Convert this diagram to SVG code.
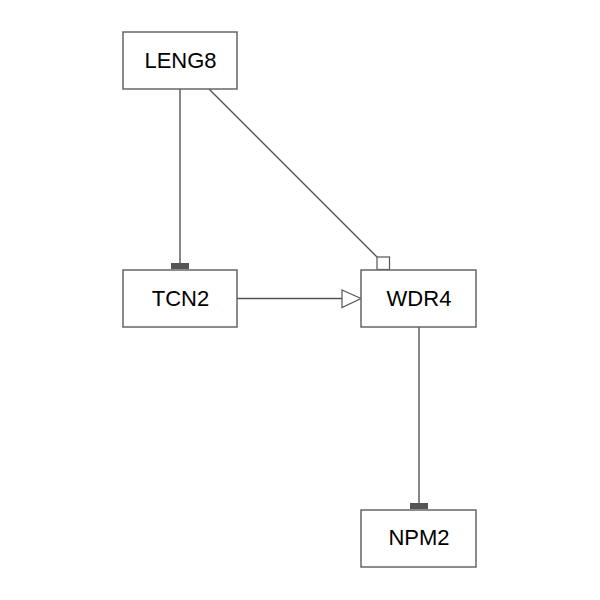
<svg xmlns="http://www.w3.org/2000/svg" width="600" height="600" viewBox="0 0 600 600">
<style>
.box{fill:#fff;stroke:#666;stroke-width:1.5}
.lbl{font-family:"Liberation Sans",Arial,sans-serif;font-size:22px;fill:#000;text-anchor:middle}
.edge{stroke:#555;stroke-width:1.4;fill:none}
.tee{fill:#555;stroke:none}
.open{fill:#fff;stroke:#555;stroke-width:1.2}
</style>
<rect width="600" height="600" fill="#fff"/>
<g id="connectors">
<line class="edge" x1="180" y1="89" x2="180" y2="264"/>
<rect class="tee" x="171" y="263" width="18" height="6"/>
<line class="edge" x1="209" y1="89" x2="377" y2="257"/>
<rect class="open" x="377" y="257" width="12.5" height="12.5"/>
<line class="edge" x1="237" y1="298.5" x2="342" y2="298.5"/>
<polygon class="open" points="342,290 361,298.5 342,307.5"/>
<line class="edge" x1="419" y1="327" x2="419" y2="504"/>
<rect class="tee" x="410" y="503" width="18" height="6"/>
</g>
<g id="LENG8"><rect class="box" x="123" y="32" width="114" height="57"/><text class="lbl" x="180.5" y="68">LENG8</text></g>
<g id="TCN2"><rect class="box" x="123" y="270" width="114" height="57"/><text class="lbl" x="180.5" y="306">TCN2</text></g>
<g id="WDR4"><rect class="box" x="361" y="270" width="115" height="57"/><text class="lbl" x="419" y="306">WDR4</text></g>
<g id="NPM2"><rect class="box" x="361" y="510" width="115" height="57"/><text class="lbl" x="419" y="545">NPM2</text></g>
</svg>
